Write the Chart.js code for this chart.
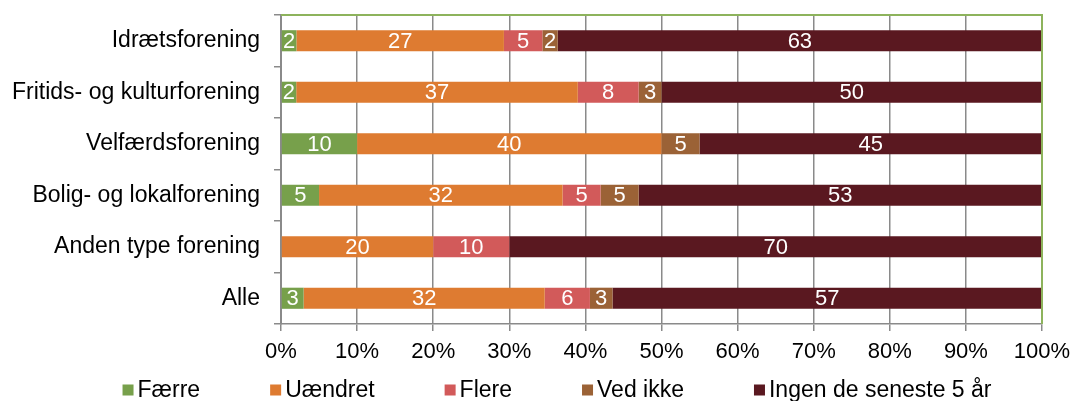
<!DOCTYPE html>
<html>
<head>
<meta charset="utf-8">
<script src="https://cdn.jsdelivr.net/npm/chart.js@4"></script>
<style>
  html, body { margin: 0; padding: 0; background: #fff; }
  canvas { display: block; }
</style>
</head>
<body>
<canvas id="bar-chart" width="1073" height="401"></canvas>
<script>
const categories = ['Idrætsforening', 'Fritids- og kulturforening', 'Velfærdsforening', 'Bolig- og lokalforening', 'Anden type forening', 'Alle'];
const seriesNames = ['Færre', 'Uændret', 'Flere', 'Ved ikke', 'Ingen de seneste 5 år'];
const faerre   = [2, 2, 10, 5, 0, 3];
const uaendret = [27, 37, 40, 32, 20, 32];
const flere    = [5, 8, 0, 5, 10, 6];
const vedIkke  = [2, 3, 5, 5, 0, 3];
const ingen    = [63, 50, 45, 53, 70, 57];
const colors = ['#77a04b', '#de7b31', '#d25a5a', '#9b6236', '#5a1820'];

const FONT = '"Liberation Sans", Arial, sans-serif';
const series = [faerre, uaendret, flere, vedIkke, ingen];

// row totals, so each bar is stretched to 100%
const totals = categories.map((c, i) => series.reduce((s, arr) => s + arr[i], 0));

const datasets = series.map((arr, k) => ({
  label: seriesNames[k],
  data: arr.map((v, i) => v / totals[i] * 100),
  raw: arr,
  backgroundColor: colors[k],
  borderWidth: 0,
  barPercentage: 0.41,
  categoryPercentage: 1
}));

// white numbers in the middle of each segment
const segmentLabels = {
  id: 'segmentLabels',
  afterDatasetsDraw(chart) {
    const ctx = chart.ctx;
    ctx.save();
    ctx.font = '22px ' + FONT;
    ctx.fillStyle = '#fff';
    ctx.textAlign = 'center';
    ctx.textBaseline = 'middle';
    chart.data.datasets.forEach((ds, k) => {
      chart.getDatasetMeta(k).data.forEach((bar, i) => {
        const v = ds.raw[i];
        if (!v) return;
        const p = bar.getCenterPoint();
        ctx.fillText(String(v), p.x, p.y + 1);
      });
    });
    ctx.restore();
  }
};

// green frame on top and right of the plot area
const plotFrame = {
  id: 'plotFrame',
  afterDatasetsDraw(chart) {
    const a = chart.chartArea, ctx = chart.ctx;
    ctx.save();
    ctx.strokeStyle = '#8db35c';
    ctx.lineWidth = 2;
    ctx.beginPath();
    ctx.moveTo(a.left, a.top);
    ctx.lineTo(a.right, a.top);
    ctx.lineTo(a.right, a.bottom);
    ctx.stroke();
    ctx.restore();
  }
};

// legend row: small square, tight gap, wide spacing between entries
const bottomLegend = {
  id: 'bottomLegend',
  afterDraw(chart) {
    const ctx = chart.ctx;
    const box = 11, gap = 4, spacing = 70, cy = 390, center = 557;
    ctx.save();
    ctx.font = '23px ' + FONT;
    ctx.textBaseline = 'middle';
    ctx.textAlign = 'left';
    const widths = seriesNames.map(n => box + gap + ctx.measureText(n).width);
    const total = widths.reduce((s, w) => s + w, 0) + spacing * (widths.length - 1);
    let x = center - total / 2;
    seriesNames.forEach((n, k) => {
      ctx.fillStyle = colors[k];
      ctx.fillRect(x, cy - box / 2, box, box);
      ctx.fillStyle = '#000';
      ctx.fillText(n, x + box + gap, cy + 1);
      x += widths[k] + spacing;
    });
    ctx.restore();
  }
};

new Chart(document.getElementById('bar-chart'), {
  type: 'bar',
  data: { labels: categories, datasets: datasets },
  plugins: [segmentLabels, plotFrame, bottomLegend],
  options: {
    indexAxis: 'y',
    responsive: false,
    animation: false,
    layout: { padding: { top: 15, right: 31, left: 0, bottom: 0 } },
    plugins: {
      legend: { display: false },
      tooltip: { enabled: false }
    },
    scales: {
      x: {
        stacked: true,
        min: 0,
        max: 100,
        afterFit: s => {
          s.height = 77;
          s.paddingLeft = 0;
          s.paddingRight = 0;
        },
        ticks: {
          stepSize: 10,
          padding: 8,
          color: '#000',
          font: { family: FONT, size: 22 },
          callback: v => v + '%'
        },
        grid: { color: '#8a8a8a', lineWidth: 1.5, tickLength: 7 },
        border: { color: '#8a8a8a', width: 1.5 }
      },
      y: {
        stacked: true,
        afterFit: s => {
          s.width = 281;
          s.paddingTop = 0;
          s.paddingBottom = 0;
        },
        ticks: {
          padding: 14,
          color: '#000',
          font: { family: FONT, size: 23 }
        },
        grid: { drawOnChartArea: false, color: '#8a8a8a', lineWidth: 1.5, tickLength: 7, offset: true },
        border: { color: '#8a8a8a', width: 2 }
      }
    }
  }
});
</script>
</body>
</html>
